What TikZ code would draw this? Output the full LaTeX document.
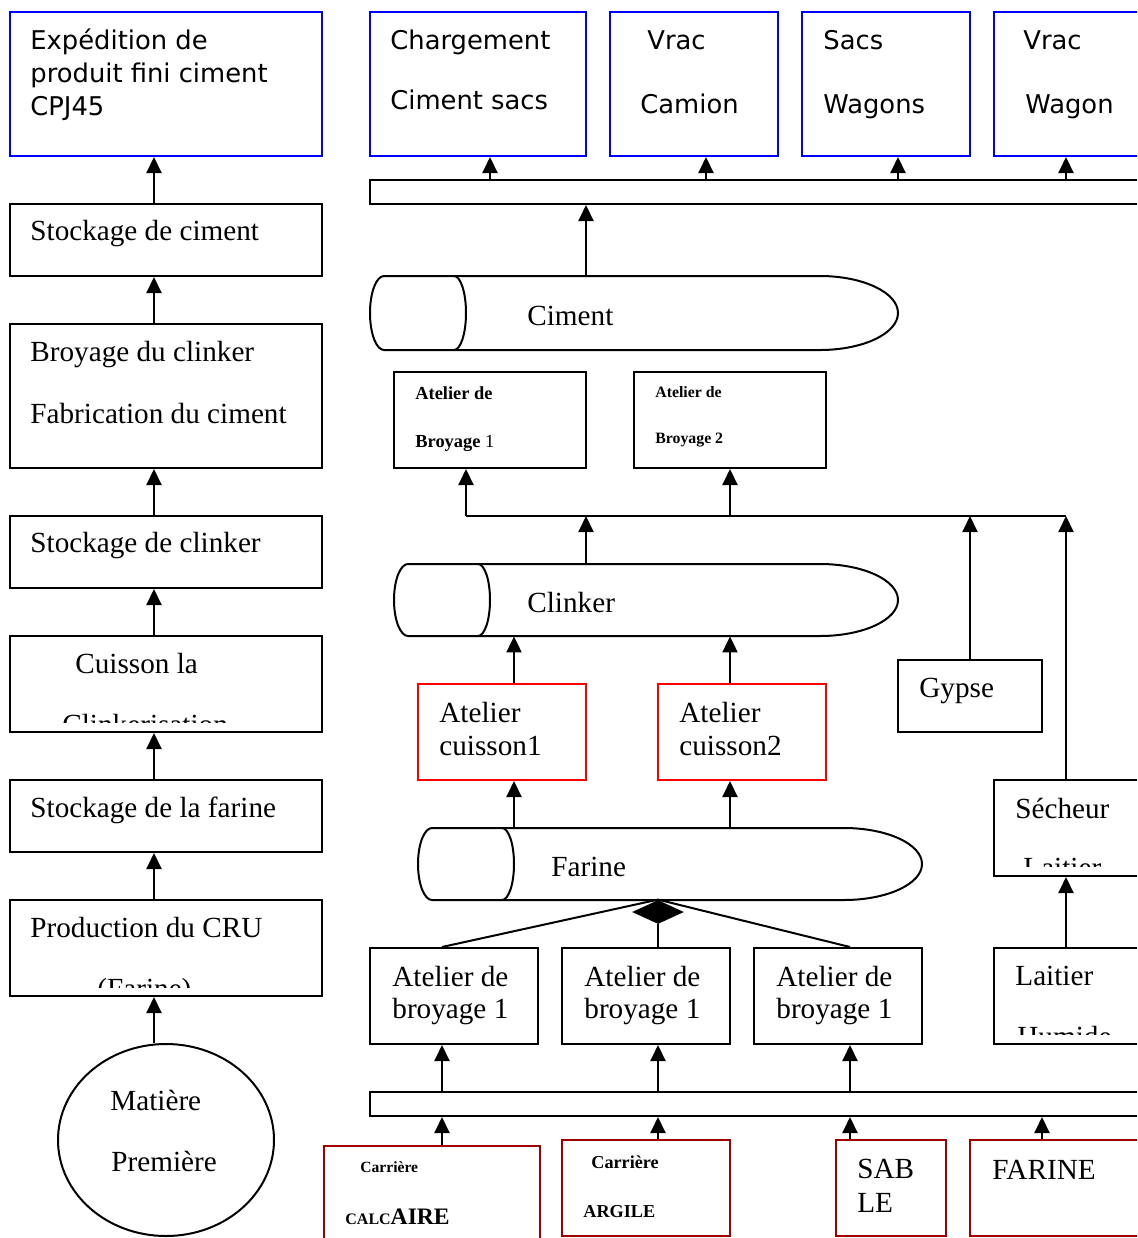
\documentclass[tikz,border=0pt]{standalone}
\usepackage{fontspec}
\setmainfont{Liberation Serif}
\newfontfamily\tahfont{DejaVu Sans}
\usetikzlibrary{arrows.meta,fit,shapes.geometric}
\definecolor{dred}{RGB}{160,0,0}
\definecolor{myblue}{RGB}{0,0,255}
\newcommand\cylshape[7]{% #1 name, #2 x1, #3 y1, #4 x2, #5 y2, #6 cap right x, #7 half height
  \draw[ln, fill=white] (#6-12,#3) -- (#4-78,#3) arc[start angle=90,end angle=-90,x radius=39pt,y radius=#7] -- (#6-12,#5);
  \draw[ln, fill=white] (#2+14,#3) -- (#6-12,#3) arc[start angle=90,end angle=-90,x radius=6pt,y radius=#7] -- (#2+14,#5) arc[start angle=270,end angle=90,x radius=7pt,y radius=#7] -- cycle;
  \node[fit={(#2,#3) (#4,#5)}, inner sep=0pt] (#1) {};
}
\begin{document}
\begin{tikzpicture}[x=0.5pt,y=-0.5pt,
 ln/.style={line width=1pt},
 bx/.style={draw, line width=1pt, inner sep=0pt},
 bblue/.style={bx, draw=myblue},
 bred/.style={bx, draw=red},
 bdred/.style={bx, draw=dred},
 tx/.style={anchor=base west, inner sep=0pt, font=\fontsize{14.6}{16}\selectfont},
 ts/.style={anchor=base west, inner sep=0pt, font=\tahfont\fontsize{12.9}{15}\selectfont},
 tb/.style={anchor=base west, inner sep=0pt, font=\bfseries\fontsize{#1}{11}\selectfont},
 arr/.style={line width=1pt, -{Triangle[length=8pt,width=7.5pt]}},
]
\path[use as bounding box] (0,0) rectangle (1137,1238);
\clip (0,0) rectangle (1137,1238);
\fill[white] (0,0) rectangle (1137,1238);

% x positions of connectors
\coordinate (cL) at (154,0);
\coordinate (x442) at (442,0);
\coordinate (x466) at (466,0);
\coordinate (x490) at (490,0);
\coordinate (x514) at (514,0);
\coordinate (x586) at (586,0);
\coordinate (x658) at (658,0);
\coordinate (x706) at (706,0);
\coordinate (x730) at (730,0);
\coordinate (x850) at (850,0);
\coordinate (x898) at (898,0);
\coordinate (x970) at (970,0);
\coordinate (x1042) at (1042,0);
\coordinate (x1066) at (1066,0);

% ---------------- left column ----------------
\node[bblue, fit={(10,12) (322,156)}] (exp) {};
\node[ts] (exp1) at (30,49) {Expédition de};
\node[ts] (exp2) at (30,82) {produit fini ciment};
\node[ts] (exp3) at (30,115) {CPJ45};

\node[bx, fit={(10,204) (322,276)}] (stc) {};
\node[tx] (stc1) at (30,240) {Stockage de ciment};

\node[bx, fit={(10,324) (322,468)}] (bcl) {};
\node[tx] (bcl1) at (30,361) {Broyage du clinker};
\node[tx] (bcl2) at (30,423) {Fabrication du ciment};

\node[bx, fit={(10,516) (322,588)}] (skl) {};
\node[tx] (skl1) at (30,552) {Stockage de clinker};

\node[bx, fit={(10,636) (322,732)}] (cui) {};
\node[tx] (cui1) at (75,673) {Cuisson la};
\begin{scope}
\clip (10,636) rectangle (322,722);
\node[tx] (cui2) at (62,734) {Clinkerisation};
\end{scope}

\node[bx, fit={(10,780) (322,852)}] (sfa) {};
\node[tx] (sfa1) at (30,817) {Stockage de la farine};

\node[bx, fit={(10,900) (322,996)}] (pcr) {};
\node[tx] (pcr1) at (30,937) {Production du CRU};
\begin{scope}
\clip (10,900) rectangle (322,987);
\node[tx] (pcr2) at (97,998) {(Farine)};
\end{scope}

\node[draw, ellipse, line width=1pt, minimum width=108pt, minimum height=96pt, inner sep=0pt] (mp) at (166,1140) {};
\node[tx] (mp1) at (110,1110) {Matière};
\node[tx] (mp2) at (111,1171) {Première};

\draw[arr] (stc.north -| cL) -- (exp.south -| cL);
\draw[arr] (bcl.north -| cL) -- (stc.south -| cL);
\draw[arr] (skl.north -| cL) -- (bcl.south -| cL);
\draw[arr] (cui.north -| cL) -- (skl.south -| cL);
\draw[arr] (sfa.north -| cL) -- (cui.south -| cL);
\draw[arr] (pcr.north -| cL) -- (sfa.south -| cL);
\draw[arr] (mp.north -| cL) -- (pcr.south -| cL);

% ---------------- right: top ----------------
\node[bblue, fit={(370,12) (586,156)}] (chg) {};
\node[ts] (chg1) at (390,49) {Chargement};
\node[ts] (chg2) at (390,109) {Ciment sacs};
\node[bblue, fit={(610,12) (778,156)}] (vca) {};
\node[ts] (vca1) at (647,49) {Vrac};
\node[ts] (vca2) at (640,113) {Camion};
\node[bblue, fit={(802,12) (970,156)}] (swa) {};
\node[ts] (swa1) at (823,49) {Sacs};
\node[ts] (swa2) at (823,113) {Wagons};
\node[bblue, fit={(994,12) (1180,156)}] (vwa) {};
\node[ts] (vwa1) at (1023,49) {Vrac};
\node[ts] (vwa2) at (1025,113) {Wagon};

\node[bx, fit={(370,180) (1180,204)}] (bar1) {};
\draw[arr] (bar1.north -| x490) -- (chg.south -| x490);
\draw[arr] (bar1.north -| x706) -- (vca.south -| x706);
\draw[arr] (bar1.north -| x898) -- (swa.south -| x898);
\draw[arr] (bar1.north -| x1066) -- (vwa.south -| x1066);

% cylinders
\cylshape{cim}{370}{276}{898}{350}{466}{18.5pt}
\node[tx] (cim1) at (527,325) {Ciment};
\draw[arr] (cim.north -| x586) -- (bar1.south -| x586);

\node[bx, fit={(394,372) (586,468)}] (br1) {};
\node[tb=9.2] (br1a) at (415,399) {Atelier de};
\node[tb=9.2] (br1b) at (415,447) {Broyage \textmd{1}};
\node[bx, fit={(634,372) (826,468)}] (br2) {};
\node[tb=7.9] (br2a) at (655,397) {Atelier de};
\node[tb=7.9] (br2b) at (655,443) {Broyage 2};

\coordinate (busL) at (466,516);
\coordinate (busR) at (1066,516);
\draw[ln] (busL) -- (busR);
\draw[arr] (busL) -- (br1.south -| x466);
\draw[arr] (busL -| x730) -- (br2.south -| x730);

\cylshape{clk}{394}{564}{898}{636}{490}{18pt}
\node[tx] (clk1) at (527,612) {Clinker};
\draw[arr] (clk.north -| x586) -- (busL -| x586);

\node[bred, fit={(418,684) (586,780)}] (cu1) {};
\node[tx] (cu1a) at (439,722) {Atelier};
\node[tx] (cu1b) at (439,755) {cuisson1};
\node[bred, fit={(658,684) (826,780)}] (cu2) {};
\node[tx] (cu2a) at (679,722) {Atelier};
\node[tx] (cu2b) at (679,755) {cuisson2};
\draw[arr] (cu1.north -| x514) -- (clk.south -| x514);
\draw[arr] (cu2.north -| x730) -- (clk.south -| x730);

\node[bx, fit={(898,660) (1042,732)}] (gyp) {};
\node[tx] (gyp1) at (919,697) {Gypse};
\draw[arr] (gyp.north -| x970) -- (busL -| x970);

\node[bx, fit={(994,780) (1180,876)}] (sec) {};
\node[tx] (sec1) at (1015,818) {Sécheur};
\begin{scope}
\clip (994,780) rectangle (1137,866);
\node[tx] (sec2) at (1023,877) {Laitier};
\end{scope}
\draw[arr] (sec.north -| x1066) -- (busR);

\cylshape{far}{418}{828}{922}{900}{514}{18pt}
\node[tx] (far1) at (551,876) {Farine};
\draw[arr] (far.north -| x514) -- (cu1.south -| x514);
\draw[arr] (far.north -| x730) -- (cu2.south -| x730);

\node[bx, fit={(994,948) (1180,1044)}] (lai) {};
\node[tx] (lai1) at (1015,985) {Laitier};
\begin{scope}
\clip (994,948) rectangle (1137,1034);
\node[tx] (lai2) at (1017,1046) {Humide};
\end{scope}
\draw[arr] (lai.north -| x1066) -- (sec.south -| x1066);

% grinding workshops
\node[bx, fit={(370,948) (538,1044)}] (ab1) {};
\node[tx] (ab1a) at (392,986) {Atelier de};
\node[tx] (ab1b) at (392,1018) {broyage 1};
\node[bx, fit={(562,948) (730,1044)}] (ab2) {};
\node[tx] (ab2a) at (584,986) {Atelier de};
\node[tx] (ab2b) at (584,1018) {broyage 1};
\node[bx, fit={(754,948) (922,1044)}] (ab3) {};
\node[tx] (ab3a) at (776,986) {Atelier de};
\node[tx] (ab3b) at (776,1018) {broyage 1};

\node[diamond, fill=black, minimum width=26pt, minimum height=12pt, inner sep=0pt] (dia) at (658,912) {};
\draw[ln] (dia.north) -- (ab1.north -| x442);
\draw[ln] (dia.north) -- (ab3.north -| x850);
\draw[ln] (dia.south) -- (ab2.north -| x658);

\node[bx, fit={(370,1092) (1180,1116)}] (bar2) {};
\draw[arr] (bar2.north -| x442) -- (ab1.south -| x442);
\draw[arr] (bar2.north -| x658) -- (ab2.south -| x658);
\draw[arr] (bar2.north -| x850) -- (ab3.south -| x850);

% quarries
\node[bdred, fit={(324,1146) (540,1270)}] (cal) {};
\node[tb=7.8] (cal1) at (360,1172) {Carrière};
\node[tb=8] (cal2) at (345,1224) {CALC\fontsize{11.8}{13}\selectfont AIRE};
\node[bdred, fit={(562,1140) (730,1236)}] (arg) {};
\node[tb=9.1] (arg1) at (591,1168) {Carrière};
\node[tb=9.1] (arg2) at (583,1217) {ARGILE};
\node[bdred, fit={(836,1140) (946,1236)}] (sab) {};
\node[tx] (sab1) at (857,1178) {SAB};
\node[tx] (sab2) at (857,1212) {LE};
\node[bdred, fit={(970,1140) (1180,1236)}] (fr) {};
\node[tx] (fr1) at (992,1179) {FARINE};

\draw[arr] (cal.north -| x442) -- (bar2.south -| x442);
\draw[arr] (arg.north -| x658) -- (bar2.south -| x658);
\draw[arr] (sab.north -| x850) -- (bar2.south -| x850);
\draw[arr] (fr.north -| x1042) -- (bar2.south -| x1042);
\end{tikzpicture}
\end{document}
